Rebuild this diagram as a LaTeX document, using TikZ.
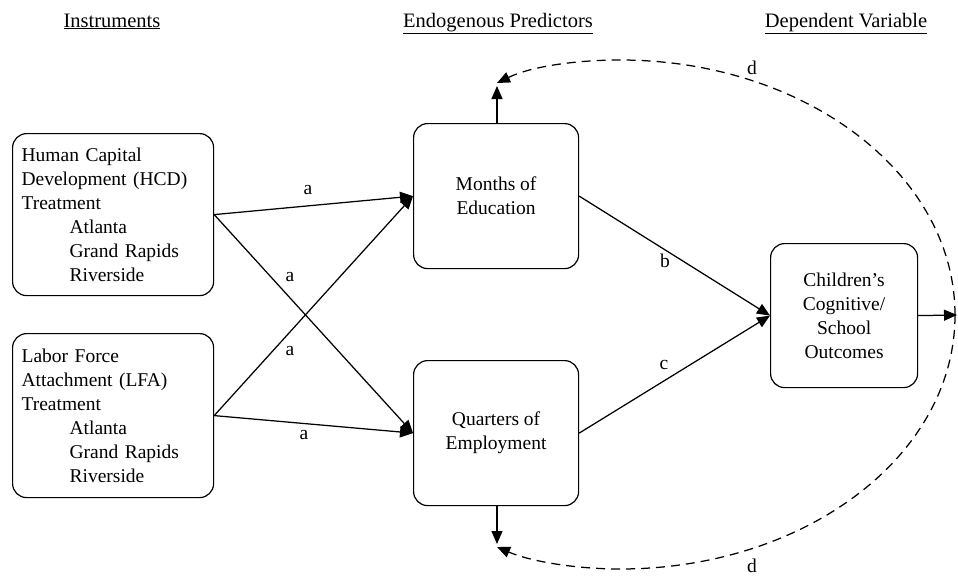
\documentclass[tikz,border=0pt]{standalone}
\usepackage{fontspec}
\setmainfont{Liberation Serif}
\usetikzlibrary{arrows.meta}
\begin{document}
\begin{tikzpicture}[x=1pt,y=-1pt,
  box/.style={draw, line width=1.2pt, rounded corners=14pt, inner sep=0pt},
  arr/.style={line width=1.25pt, -{Triangle[length=13pt,width=11pt]}},
  darr/.style={line width=1.25pt, dash pattern=on 9pt off 6pt, -{Triangle[length=13pt,width=11pt]}},
  lbl/.style={inner sep=0pt, font=\fontsize{19.5}{23}\selectfont},
  hdr/.style={inner sep=0pt, anchor=base, font=\fontsize{20.5}{23}\selectfont},
  every node/.append style={font=\fontsize{19.5}{24}\selectfont}]
\useasboundingbox (0,0) rectangle (958,576);
% headers
\node[hdr] (h1) at (112,27) {\underline{Instruments}};
\node[hdr] (h2) at (498,27) {\underline{Endogenous Predictors}};
\node[hdr] (h3) at (846,27) {\underline{Dependent Variable}};
% left boxes
\node[box, anchor=north west, text width=183pt, inner xsep=9pt, minimum height=162pt, align=left] (hcd) at (12,133)
  {Human Capital\\Development (HCD)\\Treatment\\\hspace*{48pt}Atlanta\\\hspace*{48pt}Grand Rapids\\\hspace*{48pt}Riverside};
\node[box, anchor=north west, text width=183pt, inner xsep=9pt, minimum height=164pt, align=left] (lfa) at (12,333)
  {Labor Force\\Attachment (LFA)\\Treatment\\\hspace*{48pt}Atlanta\\\hspace*{48pt}Grand Rapids\\\hspace*{48pt}Riverside};
% middle boxes
\node[box, anchor=north west, minimum width=165pt, minimum height=145pt, align=center] (months) at (413,123)
  {Months of\\Education};
\node[box, anchor=north west, minimum width=165pt, minimum height=145pt, align=center] (quarters) at (413,360)
  {Quarters of\\Employment};
% outcome box
\node[box, anchor=north west, minimum width=147pt, minimum height=144pt, align=center] (child) at (770,243)
  {Children’s\\Cognitive/\\School\\Outcomes};
% end coordinates
\coordinate (tup) at (497,86);
\coordinate (tdn) at (497,544);
\coordinate (tright) at (957,315);
\coordinate (dtop) at (497,83);
\coordinate (dbot) at (497,547);
\coordinate (dstart) at (955,315);
% solid arrows
\draw[arr] (hcd.east) -- (months.west);
\draw[arr] (hcd.east) -- (quarters.west);
\draw[arr] (lfa.east) -- (months.west);
\draw[arr] (lfa.east) -- (quarters.west);
\draw[arr] (months.east) -- (child.west);
\draw[arr] (quarters.east) -- (child.west);
\draw[arr] (months.north -| tup) -- (tup);
\draw[arr] (quarters.south -| tdn) -- (tdn);
\draw[arr] (child.east) -- (tright);
% dashed arcs
\draw[darr] (dstart) .. controls (955,174) and (805,60) .. (620,60) .. controls (578,60) and (532,66) .. (dtop);
\draw[darr] (dstart) .. controls (955,456) and (805,569) .. (620,569) .. controls (578,569) and (532,562) .. (dbot);
% labels
\node[lbl] (la1) at (308,190) {a};
\node[lbl] (la2) at (290,277) {a};
\node[lbl] (la3) at (290,351) {a};
\node[lbl] (la4) at (304,435) {a};
\node[lbl] (lb) at (665,261) {b};
\node[lbl] (lc) at (664,365) {c};
\node[lbl] (ld1) at (752,68) {d};
\node[lbl] (ld2) at (752,566) {d};
\end{tikzpicture}
\end{document}
